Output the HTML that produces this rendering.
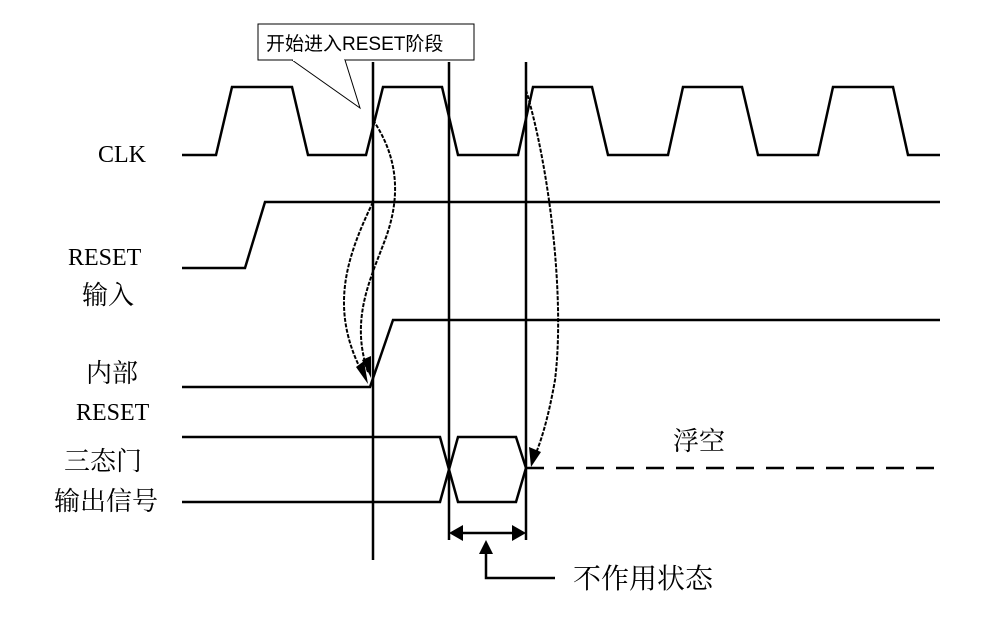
<!DOCTYPE html>
<html><head><meta charset="utf-8"><style>
body{margin:0;background:#fff}
svg text{font-family:"Liberation Serif","Noto Serif CJK SC",serif;fill:#000}
</style></head><body>
<svg width="984" height="625" viewBox="0 0 984 625" xmlns="http://www.w3.org/2000/svg">
<g fill="none" stroke="#000" stroke-width="2.5">
<polyline points="182,155 216,155 232,87 292,87 308,155 366,155 383,87 442,87 458,155 518,155 533,87 592,87 608,155 668,155 683,87 742,87 758,155 818,155 833,87 893,87 908,155 940,155"/>
<polyline points="182,268 245,268 265,202 940,202"/>
<polyline points="182,387 370,387 393,320 940,320"/>
<polyline points="182,437 440,437 458,502 516,502 526,468 516,437 458,437 440,502 182,502"/>
<line x1="526" y1="468" x2="940" y2="468" stroke-dasharray="18,12"/>
<line x1="373" y1="62" x2="373" y2="560"/>
<line x1="449" y1="62" x2="449" y2="540"/>
<line x1="526" y1="62" x2="526" y2="540"/>
<line x1="455" y1="533" x2="520" y2="533"/>
<polyline points="486,548 486,578 555,578"/>
</g>
<g fill="#000">
<polygon points="449,533 463,525 463,541"/>
<polygon points="526,533 512,525 512,541"/>
<polygon points="486,540 479,554 493,554"/>
</g>
<g fill="none" stroke="#000" stroke-width="2" stroke-dasharray="4,1.5">
<path d="M373,120 C400,160 400,200 385,240 C370,280 350,320 368,372"/>
<path d="M373,202 C345,260 330,310 362,372"/>
<path d="M526,90 C550,170 565,300 555,380 C548,420 540,445 533,460"/>
</g>
<g fill="#000">
<polygon points="371,378 362,360 371,356"/>
<polygon points="368,384 356,367 364,361"/>
<polygon points="531,467 529,447 541,452"/>
</g>
<rect x="258" y="24" width="216" height="36" fill="#fff" stroke="#000" stroke-width="1"/>
<polyline points="292,60 360,108 345,60" fill="#fff" stroke="#000" stroke-width="1"/>
<line x1="293" y1="60" x2="344" y2="60" stroke="#fff" stroke-width="2"/>
<text x="266" y="50" font-size="19" style="font-family:'Liberation Sans','Noto Sans CJK SC',sans-serif">开始进入RESET阶段</text>
<text x="98" y="162" font-size="24">CLK</text>
<text x="68" y="265" font-size="24">RESET</text>
<text x="82" y="304" font-size="26">输入</text>
<text x="86" y="382" font-size="26">内部</text>
<text x="76" y="420" font-size="24">RESET</text>
<text x="64" y="470" font-size="26">三态门</text>
<text x="54" y="510" font-size="26">输出信号</text>
<text x="673" y="450" font-size="26">浮空</text>
<text x="573" y="588" font-size="28">不作用状态</text>
</svg>
</body></html>
